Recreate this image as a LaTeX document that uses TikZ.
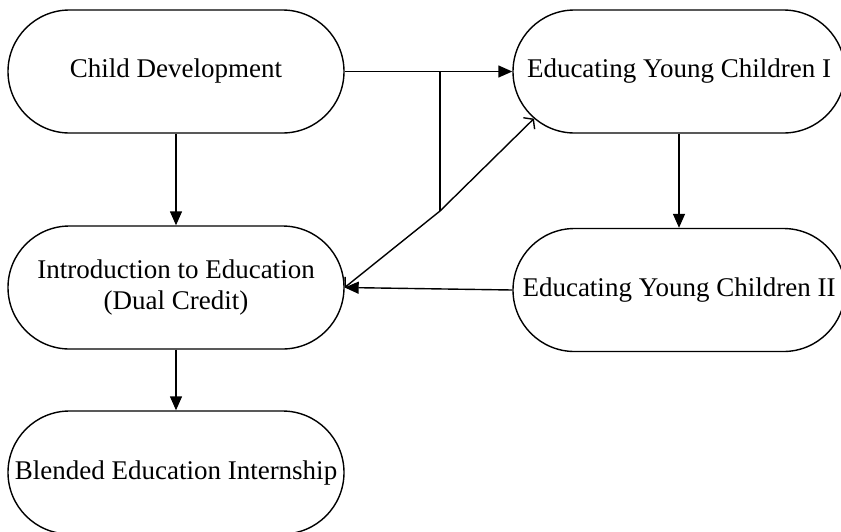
\documentclass[tikz,border=0pt]{standalone}
\usepackage{fontspec}
\setmainfont{Liberation Serif}
\usetikzlibrary{shapes.misc,arrows.meta}
\begin{document}
\begin{tikzpicture}[x=1pt, y=-1pt, line width=1.4pt,
    course/.style={draw, rounded rectangle, minimum width=336pt, minimum height=123pt,
      inner sep=0pt, align=center, font=\fontsize{27}{31}\selectfont},
    feed/.style={-{Triangle[length=14pt, width=12pt]}},
    link/.style={-{Straight Barb[length=6pt, width=16pt]}}]
    \useasboundingbox (0, 0) rectangle (841, 531) ;
    \node[course] (cd) at (176, 71.5) {Child Development} ;
    \node[course, minimum width=332pt] (eyc1) at (679, 71.5) {Educating Young Children I} ;
    \node[course] (intro) at (176, 287.5) {Introduction to Education\\(Dual Credit)} ;
    \node[course, minimum width=332pt] (eyc2) at (679, 290) {Educating Young Children II} ;
    \node[course] (bei) at (176, 472.5) {Blended Education Internship} ;
    \coordinate (split) at (440, 71.5) ;
    \coordinate (join) at (440, 211) ;
    \draw[feed] (cd.east) -- (eyc1.west) ;
    \draw[feed] (cd.south) -- (intro.north) ;
    \draw[feed] (intro.south) -- (bei.north) ;
    \draw[feed] (eyc1.south) -- (eyc2.north) ;
    \draw[feed] (eyc2.west) -- (intro.east) ;
    \draw (split) -- (join) ;
    \draw[link] (join) -- (eyc1.198) ;
    \draw[link] (join) -- (intro.east) ;
  \end{tikzpicture}
\end{document}
